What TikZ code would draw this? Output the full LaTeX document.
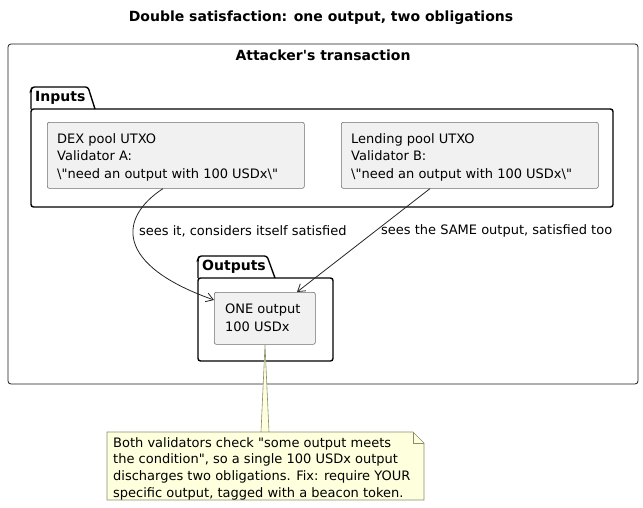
\documentclass[tikz,border=0pt]{standalone}
\usepackage{fontspec}
\setmainfont{DejaVu Sans}
\newfontfamily\djv{DejaVu Sans}
\usetikzlibrary{arrows.meta}
\definecolor{boxfill}{HTML}{F1F1F1}
\definecolor{boxline}{HTML}{6E6E6E}
\definecolor{notefill}{HTML}{FEFFDD}
\definecolor{noteline}{HTML}{8C8C6E}
\tikzset{
  elem/.style={draw=boxline, fill=boxfill, line width=0.6pt, rounded corners=2pt, anchor=north west, inner sep=0pt},
  etext/.style={anchor=north west, inner sep=0pt, align=left, font=\djv\fontsize{13}{17.5}\selectfont},
  pkg/.style={draw=black, line width=1.4pt, rounded corners=2.5pt},
  frame/.style={draw=black!90, line width=0.8pt, rounded corners=3pt},
  btitle/.style={font=\djv\bfseries\fontsize{14}{17}\selectfont, inner sep=0pt},
  lbl/.style={font=\djv\fontsize{13}{15}\selectfont, anchor=west, inner sep=0pt},
  conn/.style={draw=black!85, line width=0.8pt, -{Straight Barb[length=7pt,width=9pt]}},
}
\begin{document}
\begin{tikzpicture}[x=1pt,y=-1pt]
\useasboundingbox (0,0) rectangle (643,507);
% title
\node[btitle] (title) at (321,18) {Double satisfaction: one output, two obligations};
% outer frame
\draw[frame] (8,44) rectangle (638,384);
\node[btitle] (frametitle) at (323,55) {Attacker's transaction};
% Inputs package
\draw[pkg] (31,109) -- (31,90) -- (32,87) -- (88,87) -- (95,109);
\draw[pkg] (31,109) rectangle (613,207);
\node[btitle, anchor=west] (inputslbl) at (35,98) {Inputs};
% Outputs package
\draw[pkg] (198,278) -- (198,259) -- (199,256) -- (267,256) -- (275,278);
\draw[pkg] (198,278) rectangle (333,361);
\node[btitle, anchor=west] (outputslbl) at (202,267) {Outputs};
% elements
\node[elem, minimum width=257pt, minimum height=66pt] (dex) at (47,122) {};
\node[etext] (dext) at (57,133) {DEX pool UTXO\\Validator A:\\\textbackslash"need an output with 100 USDx\textbackslash"};
\node[elem, minimum width=257pt, minimum height=66pt] (lend) at (341,122) {};
\node[etext] (lendt) at (351,133) {Lending pool UTXO\\Validator B:\\\textbackslash"need an output with 100 USDx\textbackslash"};
\node[elem, minimum width=101pt, minimum height=52pt] (out) at (214,292) {};
\node[etext] (outt) at (225,304) {ONE output\\100 USDx};
% note
\coordinate (apex) at (265,345);
\fill[notefill] (261,432) -- (apex) -- (269,432) -- cycle;
\draw[noteline, line width=0.6pt] (261,432) -- (apex) -- (269,432);
\draw[noteline, fill=notefill, line width=0.6pt] (107,432) -- (413,432) -- (424,443) -- (424,500) -- (107,500) -- cycle;
\draw[noteline, line width=0.6pt] (413,432) -- (413,443) -- (424,443);
\node[anchor=north west, inner sep=0pt, align=left, font=\djv\fontsize{13}{16.7}\selectfont] (note) at (113,437) {Both validators check "some output meets\\the condition", so a single 100 USDx output\\discharges two obligations. Fix: require YOUR\\specific output, tagged with a beacon token.};
% connectors
\draw[conn] (dex.south west) ++(116,0) .. controls (118,218) and (115,265) .. (out.west |- 0,300);
\draw[conn] (lend.south west) ++(89,0) -- (297,292);
\node[lbl] (la) at (139,231) {sees it, considers itself satisfied};
\node[lbl] (lb) at (381,231) {sees the SAME output, satisfied too};
\end{tikzpicture}
\end{document}
